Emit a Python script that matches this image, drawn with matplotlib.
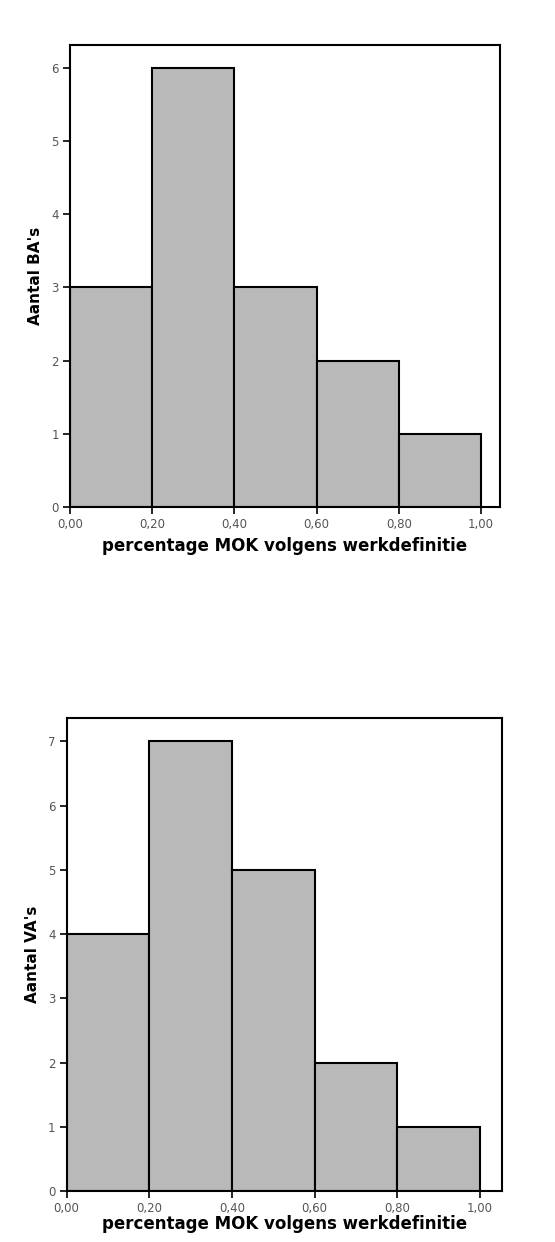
import numpy as np
from matplotlib import pyplot as plt

bin_edges = [0.0, 0.2, 0.4, 0.6, 0.8, 1.0]
ba_counts = [3, 6, 3, 2, 1]
va_counts = [4, 7, 5, 2, 1]
x_tick_labels = ['0,00', '0,20', '0,40', '0,60', '0,80', '1,00']

xlabel = 'percentage MOK volgens werkdefinitie'
bar_color = '#b9b9b9'


def draw_hist(ax, counts, ylabel, xmax, ymax, xpad=4):
    edges = np.array(bin_edges)
    ax.bar(edges[:-1], counts, width=np.diff(edges), align='edge',
           color=bar_color, edgecolor='black', linewidth=1.5)
    ax.set_xlim(0, xmax)
    ax.set_ylim(0, ymax)
    ax.set_xticks(bin_edges)
    ax.set_xticklabels(x_tick_labels)
    ax.set_yticks(range(0, max(counts) + 1))
    ax.tick_params(direction='out', length=5, width=1.2, labelsize=8.5,
                   labelcolor='#555555', pad=3)
    for s in ax.spines.values():
        s.set_linewidth(1.5)
    ax.set_xlabel(xlabel, fontsize=12, fontweight='bold', labelpad=xpad)
    ax.set_ylabel(ylabel, fontsize=11, fontweight='bold', labelpad=6)


def main():
    fig = plt.figure(figsize=(5.55, 12.42), dpi=100)
    ax1 = fig.add_axes([0.126, 0.5918, 0.775, 0.372])
    draw_hist(ax1, ba_counts, "Aantal BA's", 1.046, 6.31)
    ax2 = fig.add_axes([0.12, 0.0410, 0.785, 0.3812])
    draw_hist(ax2, va_counts, "Aantal VA's", 1.054, 7.37, xpad=0)
    fig.savefig('out.png', dpi=100)


if __name__ == '__main__':
    main()
